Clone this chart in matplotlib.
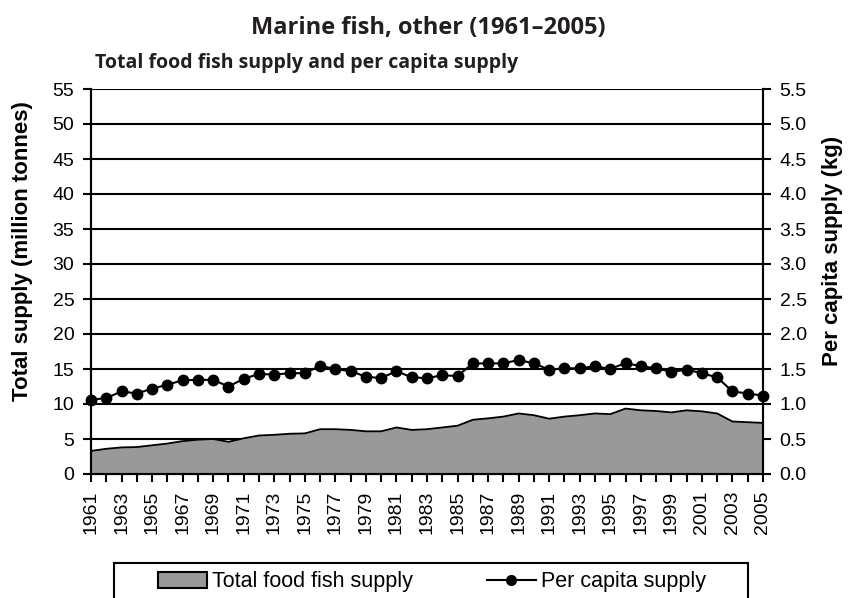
import numpy as np
import matplotlib.pyplot as plt
from matplotlib.patches import Patch, Rectangle
from matplotlib.lines import Line2D

years = list(range(1961, 2006))
total_supply = [3.3, 3.6, 3.8, 3.85, 4.1, 4.35, 4.7, 4.9, 5.0, 4.6,
                5.1, 5.5, 5.6, 5.75, 5.8, 6.4, 6.4, 6.3, 6.1, 6.1,
                6.65, 6.3, 6.4, 6.65, 6.9, 7.75, 7.95, 8.2, 8.65, 8.4,
                7.9, 8.2, 8.4, 8.65, 8.55, 9.35, 9.1, 9.0, 8.8, 9.1,
                8.95, 8.65, 7.5, 7.4, 7.3]
per_capita = [1.06, 1.085, 1.18, 1.15, 1.22, 1.275, 1.34, 1.345, 1.345, 1.25,
              1.36, 1.43, 1.42, 1.44, 1.44, 1.545, 1.50, 1.47, 1.39, 1.37,
              1.47, 1.38, 1.37, 1.41, 1.40, 1.58, 1.58, 1.58, 1.63, 1.58,
              1.49, 1.51, 1.51, 1.54, 1.50, 1.585, 1.54, 1.51, 1.46, 1.49,
              1.44, 1.38, 1.18, 1.15, 1.12]

title = "Marine fish, other (1961\u20132005)"
subtitle = "Total food fish supply and per capita supply"
legend_labels = ["Total food fish supply", "Per capita supply"]

plt.rcParams['font.family'] = ['Liberation Sans', 'DejaVu Sans']

fig = plt.figure(figsize=(8.56, 5.98), dpi=100)
ax = fig.add_axes([91/856, 1-474/598, 672/856, 385/598])
ax2 = ax.twinx()

ax.fill_between(years, total_supply, 0, facecolor='#999999', edgecolor='none', zorder=2)
ax.plot(years, total_supply, color='black', lw=1.3, zorder=3)
ax2.plot(years, per_capita, color='black', lw=1.5, marker='o', ms=7.5,
         clip_on=False, zorder=4)

ax.set_xlim(1961, 2005)
ax.set_ylim(0, 55)
ax2.set_ylim(0, 5.5)
ax.set_yticks(np.arange(0, 56, 5))
ax2.set_yticks(np.arange(0, 5.51, 0.5))
ax2.set_yticklabels([f"{v:.1f}" for v in np.arange(0, 5.51, 0.5)])
ax.set_xticks(years)
ax.set_xticklabels([str(y) if (y - 1961) % 2 == 0 else '' for y in years], rotation=90)

for v in np.arange(5, 56, 5):
    ax.axhline(v, color='black', lw=1.5, zorder=1)

for a in (ax, ax2):
    a.spines['top'].set_visible(False)
    for s in ('left', 'right', 'bottom'):
        a.spines[s].set_linewidth(1.5)
    a.tick_params(direction='out', length=5.5, width=1.5, labelsize=14, pad=6.5)
ax2.patch.set_visible(False)

ax.set_ylabel("Total supply (million tonnes)", fontsize=16, fontweight='bold')
ax2.set_ylabel("Per capita supply (kg)", fontsize=16, fontweight='bold')
ax.yaxis.set_label_coords(-58/672, 0.58)
ax2.yaxis.set_label_coords(1 + 59/672, 0.58)

fig.text(0.5, 1-28/598, title, ha='center', va='center', fontsize=17,
         fontweight='bold', family=['Open Sans', 'DejaVu Sans'], color='#231f20')
fig.text(95/856, 1-63/598, subtitle, ha='left', va='center', fontsize=14,
         fontweight='bold', family=['Open Sans', 'DejaVu Sans'], color='#231f20')

# legend frame runs off the bottom edge like in the source image
fig.add_artist(Rectangle((114/856, -0.05), (748-114)/856, 0.05 + 1-563/598,
                         transform=fig.transFigure, fill=False, ec='black', lw=1.5))
handles = [Patch(facecolor='#999999', edgecolor='black', lw=1.5),
           Line2D([], [], color='black', lw=1.5, marker='o', ms=7)]
fig.legend(handles, legend_labels, loc='center', bbox_to_anchor=(432/856, 1-582/598),
           ncol=2, fontsize=15.5, frameon=False, handlelength=2.3, handletextpad=0.25,
           columnspacing=3.4, borderpad=0)

fig.savefig('out.png', dpi=100)
